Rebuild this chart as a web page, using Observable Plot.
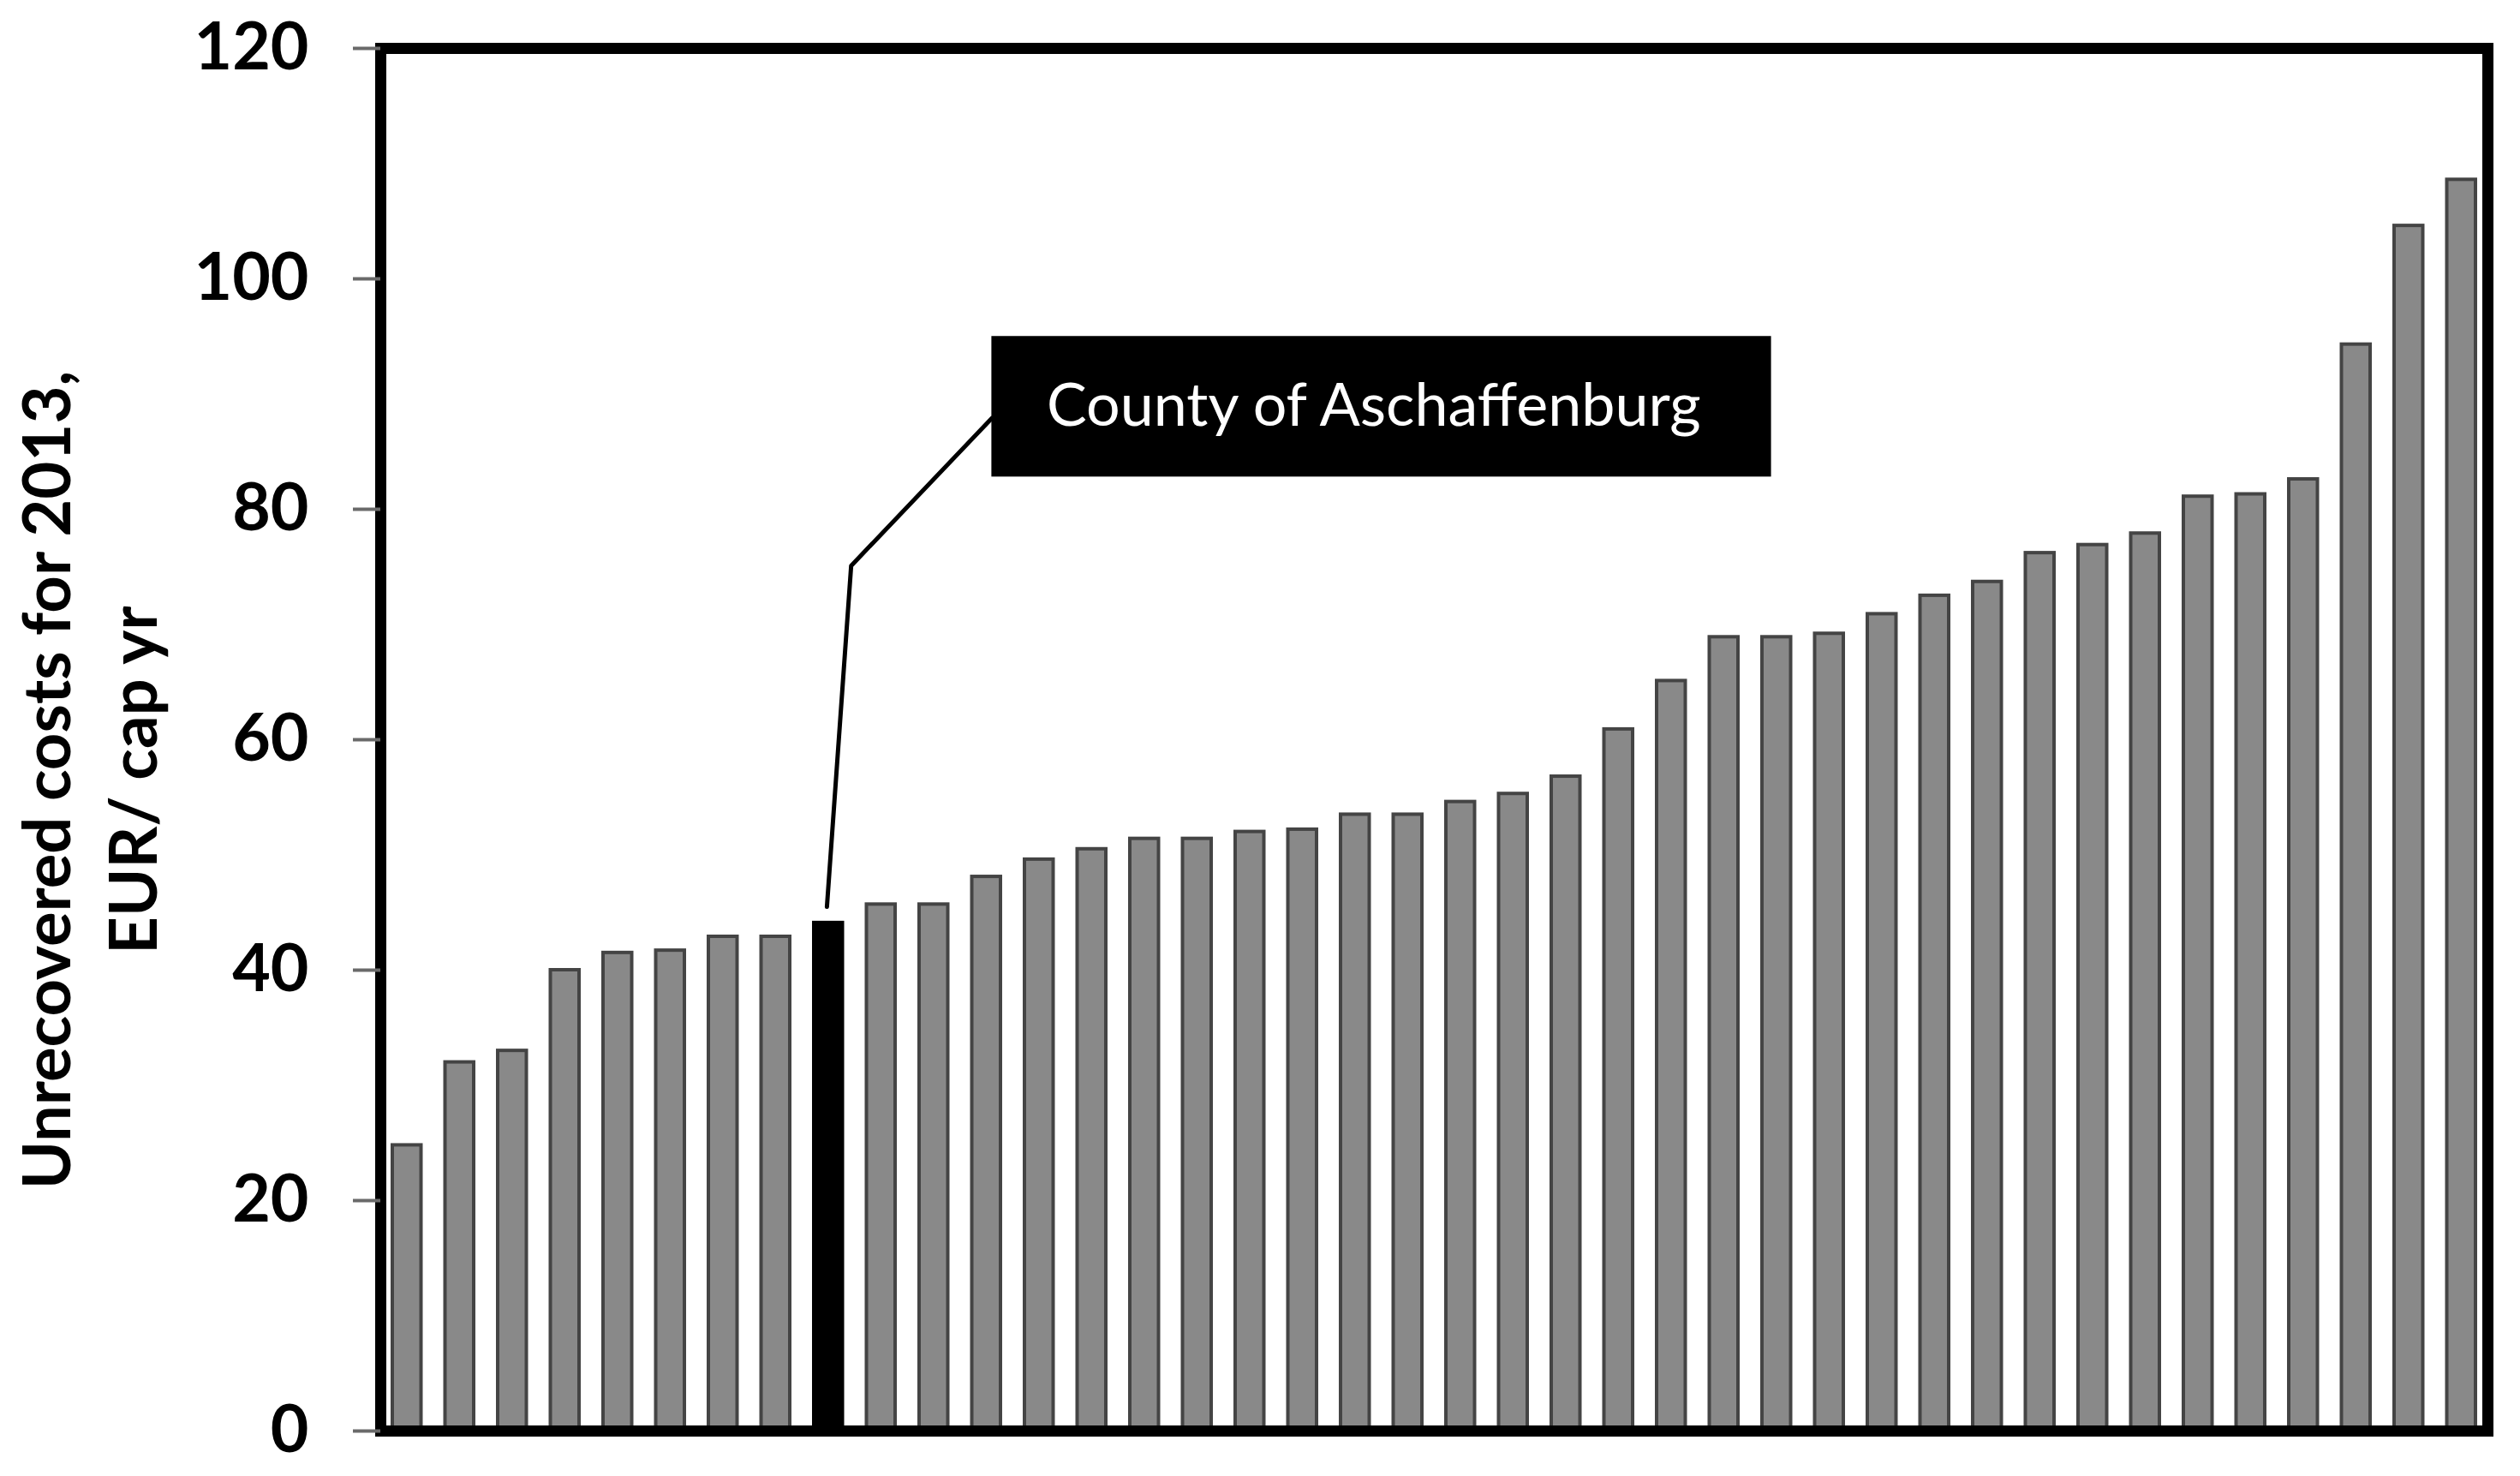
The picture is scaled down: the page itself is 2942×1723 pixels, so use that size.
<!DOCTYPE html>
<html>
<head>
<meta charset="utf-8">
<script src="https://cdn.jsdelivr.net/npm/d3@7"></script>
<script src="https://cdn.jsdelivr.net/npm/@observablehq/plot@0.6"></script>
<style>
  html, body { margin: 0; padding: 0; background: #fff; }
  #chart { width: 2942px; height: 1723px; overflow: hidden; }
</style>
</head>
<body>
<div id="chart"></div>
<script>
// ---- data (sorted counties, unrecovered costs 2013, EUR / cap yr) ----
const values = [24.8, 32.0, 33.0, 40.0, 41.5, 41.7, 42.9, 42.9, 44.1, 45.7,
                45.7, 48.1, 49.6, 50.5, 51.4, 51.4, 52.0, 52.2, 53.5, 53.5,
                54.6, 55.3, 56.8, 60.9, 65.1, 68.9, 68.9, 69.2, 70.9, 72.5,
                73.7, 76.2, 76.9, 77.9, 81.1, 81.3, 82.6, 94.3, 104.6, 108.6];
const highlightIndex = 8;                       // County of Aschaffenburg
const highlightLabel = "County of Aschaffenburg";
const yTicks = [0, 20, 40, 60, 80, 100, 120];
const yLabelLines = ["Unrecovered costs for 2013,", "EUR/ cap yr"];

// ---- annotation layout (data units) ----
const boxX = [11.6, 26.4];
const boxY = [82.8, 95.0];
const elbow = {x: 8.93, y: 75.1};

const bars = values.map((v, i) => ({rank: i, value: v, highlight: i === highlightIndex}));
const hb = bars[highlightIndex];
const leader = [
  {x: boxX[0], y: 87.9},
  {x: elbow.x, y: elbow.y},
  {x: hb.rank + 0.47, y: hb.value + 1.4}
];

const chart = Plot.plot({
  width: 2942,
  height: 1723,
  marginTop: 56,
  marginBottom: 53,
  marginLeft: 444,
  marginRight: 38,
  style: {fontFamily: "Lato, 'Open Sans', sans-serif", fontSize: "77px", fontWeight: "bold", color: "black", background: "white"},
  x: {domain: [0, values.length], axis: null},
  y: {domain: [0, 120], axis: null},
  marks: [
    Plot.rectY(bars, {
      x: "rank", interval: 1, y: "value",
      insetLeft: 14, insetRight: 14,
      fill: d => d.highlight ? "black" : "#898989",
      stroke: d => d.highlight ? "black" : "#444444",
      strokeWidth: 4
    }),
    Plot.frame({stroke: "black", strokeWidth: 13}),
    Plot.axisY({
      ticks: yTicks, tickSize: 32, tickPadding: 52,
      stroke: "#6a6a6a", strokeWidth: 4, fill: "black",
      tickFormat: d => String(d), label: null
    }),
    Plot.text([yLabelLines.join("\n")], {
      frameAnchor: "left", rotate: -90, dx: -344, dy: 47,
      fontSize: 76, fontWeight: "bold", lineHeight: 1.32, textAnchor: "middle", fill: "black"
    }),
    Plot.line(leader, {x: "x", y: "y", stroke: "black", strokeWidth: 5}),
    Plot.rect([{x1: boxX[0], x2: boxX[1], y1: boxY[0], y2: boxY[1]}], {
      x1: "x1", x2: "x2", y1: "y1", y2: "y2", fill: "black"
    }),
    Plot.text([highlightLabel], {
      x: () => (boxX[0] + boxX[1]) / 2 - 0.15, y: () => (boxY[0] + boxY[1]) / 2,
      text: d => d, fill: "white", fontSize: 70, fontWeight: "normal", textAnchor: "middle"
    })
  ]
});
document.getElementById("chart").appendChild(chart);
</script>
</body>
</html>
